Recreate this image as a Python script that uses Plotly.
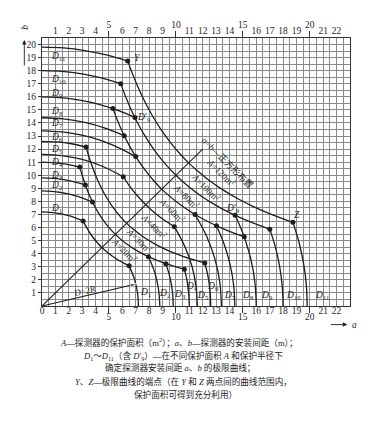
import plotly.graph_objects as go

# ------------------------------------------------------------------
# Data
# ------------------------------------------------------------------
# Limit curves: upper-left circular part (a, b) from the b axis to its end point (dot).
# The lower-right part of every curve is the same arc mirrored about a = b.
arc_names = ["D1", "D2", "D3", "D4", "D5", "D6", "D7", "D8", "D9", "D9'", "D10", "D11"]
arc_a = [
    [0, 1.0, 2.0, 3.07],
    [0, 1.3, 2.6, 3.77],
    [0, 1.1, 2.2, 3.24],
    [0, 1.0, 2.0, 2.82],
    [0, 1.5, 3.0, 4.5, 6.07],
    [0, 1.1, 2.2, 3.29],
    [0, 1.8, 3.6, 5.3, 7.0],
    [0, 1.6, 3.2, 4.7, 6.14],
    [0, 1.8, 3.6, 5.3],
    [5.3, 6.1, 6.94],
    [0, 1.5, 3.0, 4.5, 5.88],
    [0, 1.6, 3.2, 4.8, 6.40],
]
arc_b = [
    [7.2, 7.13, 6.92, 6.51],
    [8.8, 8.70, 8.41, 7.95],
    [9.8, 9.74, 9.55, 9.25],
    [11.0, 10.95, 10.82, 10.63],
    [11.6, 11.50, 11.21, 10.69, 9.885],
    [12.6, 12.55, 12.41, 12.16],
    [13.4, 13.28, 12.91, 12.31, 11.43],
    [14.4, 14.31, 14.04, 13.61, 13.03],
    [16.0, 15.90, 15.59, 15.10],
    [15.10, 14.79, 14.42],
    [18.0, 17.94, 17.75, 17.43, 17.01],
    [19.8, 19.74, 19.54, 19.21, 18.74],
]

# Equal-area curves a*b = A (half from the upper end point to the diagonal a = b)
area_values = [20, 30, 40, 60, 80, 100, 120]
hyp_a = [
    [3.07, 3.4, 3.8, 4.2, 4.47],
    [2.82, 3.0, 3.3, 3.7, 4.2, 4.8, 5.48],
    [3.29, 3.5, 3.8, 4.2, 4.7, 5.3, 5.9, 6.32],
    [6.07, 6.5, 7.1, 7.75],
    [5.3, 5.6, 6.0, 6.5, 7.1, 7.8, 8.5, 8.94],
    [5.88, 6.2, 6.6, 7.1, 7.7, 8.4, 9.2, 10.0],
    [6.40, 6.7, 7.1, 7.6, 8.2, 8.9, 9.7, 10.3, 10.95],
]
hyp_b = [
    [6.51, 5.88, 5.26, 4.76, 4.47],
    [10.64, 10.0, 9.09, 8.11, 7.14, 6.25, 5.48],
    [12.16, 11.43, 10.53, 9.52, 8.51, 7.55, 6.78, 6.32],
    [9.885, 9.23, 8.45, 7.75],
    [15.1, 14.29, 13.33, 12.31, 11.27, 10.26, 9.41, 8.94],
    [17.01, 16.13, 15.15, 14.08, 12.99, 11.9, 10.87, 10.0],
    [18.75, 17.91, 16.9, 15.79, 14.63, 13.48, 12.37, 11.65, 10.95],
]
area_label_a = [6.15, 7.26, 8.38, 9.72, 10.77, 12.26, 13.38]
area_label_b = [4.25, 5.02, 6.14, 7.34, 8.39, 9.14, 10.26]

# Square layout diagonal a = b and the D = 2R line
diag_a = [0, 12.0]
diag_b = [0, 12.0]
d2r_a = [0, 7.08]
d2r_b = [0, 1.7]

# Curve labels
left_label_names = ["11", "10", "9", "8", "7", "6", "5", "4", "3", "2", "1"]
left_label_b = [19.06, 17.34, 16.28, 14.87, 13.96, 12.9, 11.99, 10.94, 9.96, 9.2, 7.44]
bottom_label_names = ["1", "2", "3", "4", "5", "6", "7", "8", "9", "10", "11"]
bottom_label_a = [7.71, 9.17, 10.3, 11.2, 12.04, 12.78, 14.05, 15.4, 16.8, 18.75, 20.9]
bottom_label_b = [1.01, 0.92, 0.9, 1.5, 0.82, 1.5, 0.82, 0.82, 0.82, 0.82, 0.82]

# Axis tick values
x_ticks = list(range(0, 23))
y_ticks = list(range(1, 21))
x_major = [5, 10, 15, 20]
x_max = 23
y_max = 20.5

notes = [
    "<i>A</i>—探测器的保护面积（m<sup>2</sup>）；<i>a</i>、<i>b</i>—探测器的安装间距（m）；",
    "<i>D</i><sub>1</sub>～<i>D</i><sub>11</sub>（含 <i>D</i>′<sub>9</sub>）—在不同保护面积 <i>A</i> 和保护半径下",
    "确定探测器安装间距 <i>a</i>、<i>b</i> 的极限曲线；",
    "<i>Y</i>、<i>Z</i>—极限曲线的端点（在 <i>Y</i> 和 <i>Z</i> 两点间的曲线范围内，",
    "保护面积可得到充分利用）",
]

# ------------------------------------------------------------------
FONT = "Liberation Serif, Noto Sans CJK SC, serif"
INK = "#1e1e1e"
GRID = "#8a8a8a"
LW = 1.3

fig = go.Figure()

# equal-area curves (full, mirrored about a = b)
for A, ha, hb in zip(area_values, hyp_a, hyp_b):
    xa = ha + hb[::-1][1:]
    yb = hb + ha[::-1][1:]
    fig.add_trace(go.Scatter(x=xa, y=yb, mode="lines",
                             line=dict(color=INK, width=LW, shape="spline"),
                             hoverinfo="skip", showlegend=False))

# circular arcs of the limit curves
dot_x, dot_y = [], []
for name, aa, bb in zip(arc_names, arc_a, arc_b):
    fig.add_trace(go.Scatter(x=aa, y=bb, mode="lines",
                             line=dict(color=INK, width=LW, shape="spline"),
                             hoverinfo="skip", showlegend=False))
    fig.add_trace(go.Scatter(x=bb[::-1], y=aa[::-1], mode="lines",
                             line=dict(color=INK, width=LW, shape="spline"),
                             hoverinfo="skip", showlegend=False))
    dot_x += [aa[-1], bb[-1]]
    dot_y += [bb[-1], aa[-1]]

fig.add_trace(go.Scatter(x=dot_x, y=dot_y, mode="markers",
                         marker=dict(color=INK, size=5),
                         hoverinfo="skip", showlegend=False))

# diagonal a = b
fig.add_trace(go.Scatter(x=diag_a, y=diag_b, mode="lines",
                         line=dict(color=INK, width=1.1),
                         hoverinfo="skip", showlegend=False))
# D = 2R line with arrow
fig.add_trace(go.Scatter(x=d2r_a, y=d2r_b, mode="lines+markers",
                         line=dict(color=INK, width=1.1),
                         marker=dict(symbol=["circle", "arrow"], size=[0, 7],
                                     angleref="previous", color=INK),
                         hoverinfo="skip", showlegend=False))

# invisible carriers so that the extra tick axes (top / major ticks) are drawn
for ax_id in ["x2", "x3", "x4"]:
    fig.add_trace(go.Scatter(x=diag_a, y=diag_b, xaxis=ax_id, yaxis="y",
                             mode="lines", line=dict(width=0), opacity=0,
                             hoverinfo="skip", showlegend=False))

ann = []
def txt(x, y, t, size=9.5, angle=0, xanchor="center", yanchor="middle",
        xref="x", yref="y"):
    ann.append(dict(x=x, y=y, text=t, showarrow=False, textangle=angle,
                    xanchor=xanchor, yanchor=yanchor, xref=xref, yref=yref,
                    font=dict(family=FONT, size=size, color=INK)))

for n, b in zip(left_label_names, left_label_b):
    txt(0.5, b, f"<i>D</i><sub>{n}</sub>", xanchor="left")
for n, a, b in zip(bottom_label_names, bottom_label_a, bottom_label_b):
    txt(a, b, f"<i>D</i><sub>{n}</sub>")

txt(7.64, 14.42, "<i>D</i>′<sub>9</sub>")
txt(14.28, 7.45, "<i>D</i>′<sub>9</sub>")
txt(7.1, 18.95, "<i>Y</i>")
txt(19.05, 6.95, "<i>Z</i>")

for A, x, y in zip(area_values, area_label_a, area_label_b):
    txt(x, y, f"<i>A</i>={A}m<sup>2</sup>", size=9, angle=45)

txt(13.87, 11.0, "<i>a</i>=<i>b</i>—正方形布置", size=9, angle=45)
txt(3.16, 1.12, "<i>D</i>=2<i>R</i>", size=9, angle=-13.5)

# axis names with arrows (outside the plotting area -> paper coordinates)
b_arrow_x = -1.32 / x_max
ann.append(dict(x=b_arrow_x, y=20.35 / y_max, xref="paper", yref="paper",
                ax=0, ay=27, text="", showarrow=True,
                arrowhead=2, arrowsize=1, arrowwidth=0.9, arrowcolor=INK))
txt(b_arrow_x, 21.3 / y_max, "<i>b</i>", angle=-90, xref="paper", yref="paper")
a_arrow_y = -1.42 / y_max
ann.append(dict(x=22.8 / x_max, y=a_arrow_y, xref="paper", yref="paper",
                ax=-18, ay=0, text="", showarrow=True,
                arrowhead=2, arrowsize=1, arrowwidth=0.9, arrowcolor=INK))
txt(23.0 / x_max, a_arrow_y, "<i>a</i>", xanchor="left", xref="paper", yref="paper")

note_y = [-0.136, -0.185, -0.231, -0.280, -0.331]
note_x = [0.445, 0.458, 0.448, 0.461, 0.465]
for t, x, y in zip(notes, note_x, note_y):
    txt(x, y, t, size=8.6, xref="paper", yref="paper")

tickfont = dict(family=FONT, size=9.5, color=INK)
minor_grid = dict(dtick=0.5, tick0=0, showgrid=True, gridcolor=GRID, gridwidth=0.8)

x_plain = [v for v in x_ticks if v not in x_major]
top_plain = [v for v in x_plain if v > 0]

# the page body has an 8 px margin, so the figure is 8 px smaller than the window
fig.update_layout(
    width=380, height=431,
    margin=dict(l=34, r=38, t=24, b=133),
    paper_bgcolor="white", plot_bgcolor="white",
    showlegend=False,
    annotations=ann,
    xaxis=dict(range=[0, x_max], tickmode="array", tickvals=x_plain,
               ticktext=[str(v) for v in x_plain], ticks="", showgrid=False,
               minor=minor_grid, zeroline=False, showline=True,
               linecolor="#333", linewidth=1, tickfont=tickfont,
               ticklabelstandoff=-4),
    xaxis2=dict(range=[0, x_max], overlaying="x", side="top", anchor="y",
                tickmode="array", tickvals=top_plain,
                ticktext=[str(v) for v in top_plain], ticks="",
                showgrid=False, zeroline=False, showline=True,
                linecolor="#333", linewidth=1, tickfont=tickfont,
                ticklabelstandoff=-1),
    xaxis3=dict(range=[0, x_max], overlaying="x", side="bottom", anchor="y",
                tickmode="array", tickvals=x_major,
                ticktext=[str(v) for v in x_major], ticks="outside",
                ticklen=6, tickcolor="#333", showgrid=False, zeroline=False,
                showline=False, tickfont=tickfont, ticklabelstandoff=-4),
    xaxis4=dict(range=[0, x_max], overlaying="x", side="top", anchor="y",
                tickmode="array", tickvals=x_major,
                ticktext=[str(v) for v in x_major], ticks="outside",
                ticklen=6, tickcolor="#333", showgrid=False, zeroline=False,
                showline=False, tickfont=tickfont, ticklabelstandoff=-1),
    yaxis=dict(range=[0, y_max], tickmode="array", tickvals=y_ticks,
               ticktext=[str(v) for v in y_ticks], ticks="outside", ticklen=3,
               tickcolor="#333", showgrid=False, minor=minor_grid,
               zeroline=False, showline=True, mirror=True,
               linecolor="#333", linewidth=1, tickfont=tickfont),
)

fig.write_html("out.html")
